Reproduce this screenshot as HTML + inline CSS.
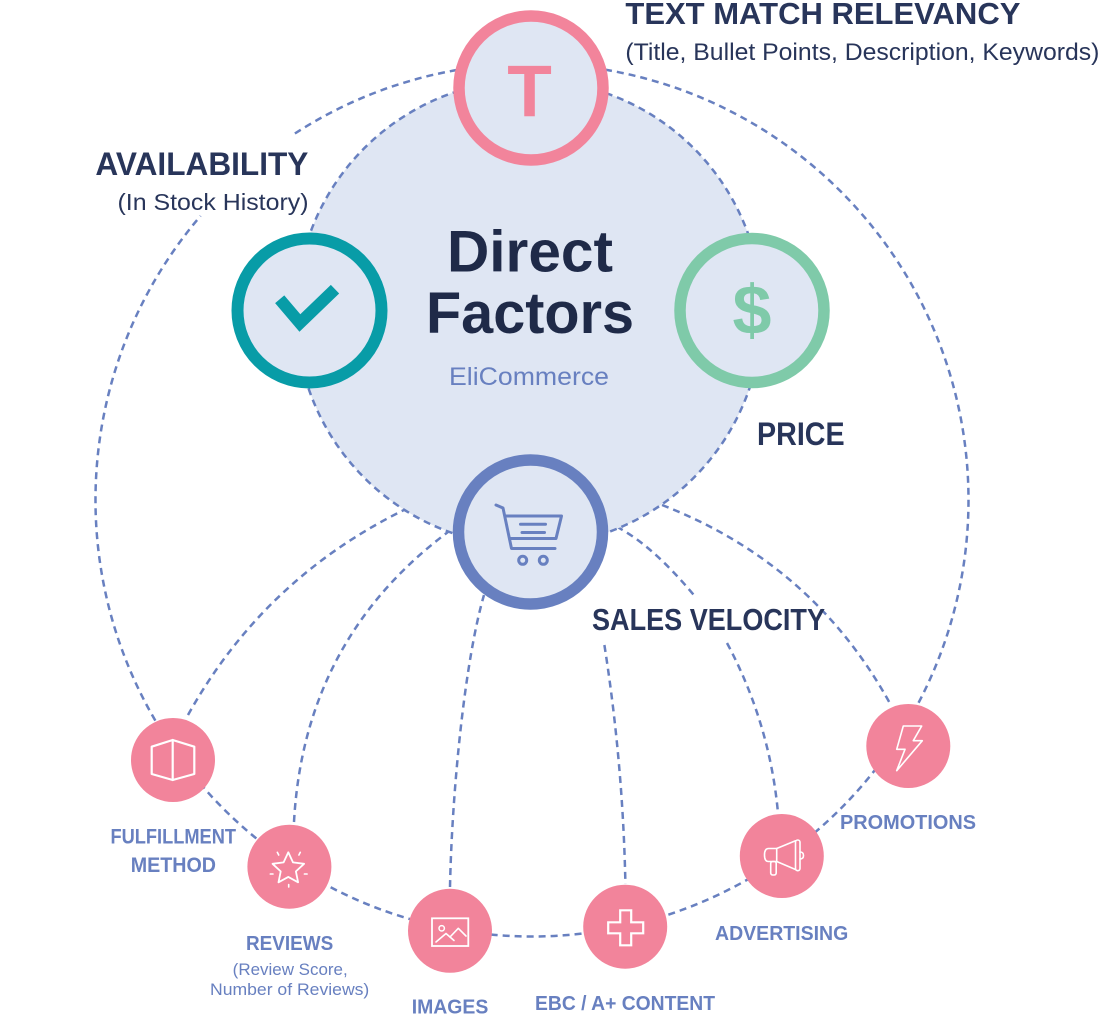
<!DOCTYPE html>
<html>
<head>
<meta charset="utf-8">
<style>
  html,body{margin:0;padding:0;background:#ffffff;}
  svg{display:block;}
  .hd{font-family:"Liberation Sans",Arial,sans-serif;font-weight:bold;fill:#28355a;}
  .sub{font-family:"Liberation Sans",Arial,sans-serif;font-weight:normal;fill:#28355a;}
  .nl{font-family:"Liberation Sans",Arial,sans-serif;font-weight:bold;fill:#6880c0;}
  .ns{font-family:"Liberation Sans",Arial,sans-serif;font-weight:normal;fill:#6880c0;}
</style>
</head>
<body>
<svg width="1100" height="1015" viewBox="0 0 1100 1015" xmlns="http://www.w3.org/2000/svg">
  <rect x="0" y="0" width="1100" height="1015" fill="#ffffff"/>

  <!-- outer dashed ring (gap at AVAILABILITY label) -->
  <path d="M294.9 133.5 A436.5 436.5 0 1 1 200.6 215.9" fill="none" stroke="#6880c0" stroke-width="2.5" stroke-dasharray="7 5"/>

  <!-- inner connectors -->
  <g fill="none" stroke="#6880c0" stroke-width="2.5" stroke-dasharray="7 5">
    <path d="M188 715 Q264.5 577.5 407 508.5"/>
    <path d="M294 822 Q304 638 450.7 530"/>
    <path d="M450 887 C452 790 465 660 484 595"/>
    <path d="M604.4 645 Q623 764 625.4 884"/>
    <path d="M616.6 526.7 Q652 545 693.8 595"/>
    <path d="M727 643 Q769.7 723 778 813"/>
    <path d="M662 505 Q813 563.6 890 703.5"/>
  </g>

  <!-- big central circle -->
  <circle cx="529" cy="313" r="233" fill="#dfe6f3" stroke="#6880c0" stroke-width="2.5" stroke-dasharray="7 5"/>

  <!-- main factor circles -->
  <circle cx="531" cy="88" r="72" fill="#dfe6f3" stroke="#f2849b" stroke-width="11.5"/>
  <circle cx="309.5" cy="310.5" r="72" fill="#dfe6f3" stroke="#089ca7" stroke-width="12"/>
  <circle cx="752" cy="310.5" r="72" fill="#dfe6f3" stroke="#7fcaa9" stroke-width="11.5"/>
  <circle cx="530.5" cy="532" r="72" fill="#dfe6f3" stroke="#6880c0" stroke-width="11.5"/>

  <!-- T -->
  <text x="529.5" y="116.7" text-anchor="middle" font-family="Liberation Sans, Arial, sans-serif" font-weight="bold" font-size="73" fill="#f2849b">T</text>
  <!-- check -->
  <polyline points="279.7,299.2 299.9,323 335,289.2" fill="none" stroke="#089ca7" stroke-width="12" stroke-linejoin="miter"/>
  <!-- dollar -->
  <text x="752" y="334" text-anchor="middle" font-family="Liberation Sans, Arial, sans-serif" font-weight="bold" font-size="70" fill="#7fcaa9">$</text>
  <!-- cart -->
  <g fill="none" stroke="#6880c0" stroke-width="3" stroke-linecap="round" stroke-linejoin="round">
    <path d="M496 505 L503 508 L511.5 548.5 L555 548.5"/>
    <path d="M505 516 L561.5 516 L556 538.5 L509.5 538.5"/>
    <path d="M520.5 524.3 L545.5 524.3"/>
    <path d="M522 532.5 L544.5 532.5"/>
    <circle cx="522.7" cy="560.3" r="4"/>
    <circle cx="543.3" cy="560.3" r="4"/>
  </g>

  <!-- pink nodes -->
  <g fill="#f2849b">
    <circle cx="173" cy="760" r="42"/>
    <circle cx="289.4" cy="866.7" r="42"/>
    <circle cx="450" cy="930.8" r="42"/>
    <circle cx="625.2" cy="926.7" r="42"/>
    <circle cx="781.8" cy="856" r="42"/>
    <circle cx="908.3" cy="746" r="42"/>
  </g>

  <!-- node icons -->
  <g fill="none" stroke="#ffffff" stroke-linejoin="round" stroke-linecap="round">
    <!-- cube -->
    <polygon points="151.7,746.7 172.7,740 194.3,746.7 194.3,774 172.7,780 151.7,774" stroke-width="2.2"/>
    <line x1="172.7" y1="740" x2="172.7" y2="780" stroke-width="2.2"/>
    <!-- star -->
    <polygon points="288.3,852.3 293,862.4 304.1,863.8 295.9,871.4 298.1,882.3 288.3,876.9 278.5,882.3 280.7,871.4 272.5,863.8 283.6,862.4" stroke-width="1.8"/>
    <line x1="277.3" y1="852.3" x2="278.7" y2="855" stroke-width="1.6"/>
    <line x1="300.3" y1="852.3" x2="298.9" y2="855" stroke-width="1.6"/>
    <line x1="270.3" y1="874" x2="273" y2="874" stroke-width="1.6"/>
    <line x1="304.4" y1="874" x2="307.1" y2="874" stroke-width="1.6"/>
    <line x1="288.7" y1="884.6" x2="288.7" y2="887" stroke-width="1.6"/>
    <!-- image -->
    <rect x="432" y="918.3" width="36.3" height="27.7" stroke-width="1.8" stroke-linejoin="miter"/>
    <circle cx="441.7" cy="928.3" r="2.7" stroke-width="1.5"/>
    <polyline points="436,942 446,933.5 454,940.5" stroke-width="1.6"/>
    <polyline points="450,937 458.3,928.3 466,936" stroke-width="1.6"/>
    <!-- plus -->
    <path d="M620.2 910.3 H631.2 V922.3 H643.2 V933.3 H631.2 V945.3 H620.2 V933.3 H608.2 V922.3 H620.2 Z" stroke-width="2.2" stroke-linejoin="miter"/>
    <!-- megaphone -->
    <path d="M776.7 848.5 L768.5 848.5 Q764.5 848.5 764.5 855 Q764.5 861.5 768.5 861.5 L776.7 861.5 Z" stroke-width="1.6"/>
    <path d="M776.7 848.5 L795.5 840.8 M776.7 861.5 L795.5 869.5" stroke-width="1.6"/>
    <rect x="795.5" y="840" width="4.5" height="30.7" rx="2.2" stroke-width="1.6"/>
    <path d="M800 852 Q803.5 852 803.5 855.5 Q803.5 859 800 859" stroke-width="1.6"/>
    <rect x="770.7" y="861.5" width="5.5" height="13.5" rx="2" stroke-width="1.6"/>
    <!-- bolt -->
    <polygon points="903.3,726 921.7,726 913.3,740.7 922.3,740.7 896.7,770.7 905,749.3 896.7,749.3" stroke-width="1.6"/>
  </g>

  <!-- headings -->
  <text class="hd" x="625.4" y="24" font-size="31" textLength="395" lengthAdjust="spacingAndGlyphs">TEXT MATCH RELEVANCY</text>
  <text class="sub" x="625.4" y="60" font-size="24.5" textLength="474" lengthAdjust="spacingAndGlyphs">(Title, Bullet Points, Description, Keywords)</text>
  <text class="hd" x="95.4" y="175" font-size="32.5" textLength="213" lengthAdjust="spacingAndGlyphs">AVAILABILITY</text>
  <text class="sub" x="117.5" y="210" font-size="23.5" textLength="191" lengthAdjust="spacingAndGlyphs">(In Stock History)</text>
  <text class="hd" x="757" y="445" font-size="32" textLength="87.6" lengthAdjust="spacingAndGlyphs">PRICE</text>
  <text class="hd" x="592" y="630" font-size="31" textLength="233" lengthAdjust="spacingAndGlyphs">SALES VELOCITY</text>

  <!-- center -->
  <text x="447" y="271.7" font-family="Liberation Sans, Arial, sans-serif" font-weight="bold" font-size="58" fill="#1f2a48" textLength="166" lengthAdjust="spacingAndGlyphs">Direct</text>
  <text x="426" y="333" font-family="Liberation Sans, Arial, sans-serif" font-weight="bold" font-size="58" fill="#1f2a48" textLength="208" lengthAdjust="spacingAndGlyphs">Factors</text>
  <text x="449" y="385" font-family="Liberation Sans, Arial, sans-serif" font-size="25" fill="#6880c0" textLength="160" lengthAdjust="spacingAndGlyphs">EliCommerce</text>

  <!-- node labels -->
  <text class="nl" x="110.5" y="843.3" font-size="21" textLength="125.5" lengthAdjust="spacingAndGlyphs">FULFILLMENT</text>
  <text class="nl" x="130.7" y="871.8" font-size="21" textLength="85.3" lengthAdjust="spacingAndGlyphs">METHOD</text>
  <text class="nl" x="246" y="950" font-size="20.5" textLength="87.3" lengthAdjust="spacingAndGlyphs">REVIEWS</text>
  <text class="ns" x="232.7" y="975" font-size="16.5" textLength="115" lengthAdjust="spacingAndGlyphs">(Review Score,</text>
  <text class="ns" x="210" y="995" font-size="16.5" textLength="159.3" lengthAdjust="spacingAndGlyphs">Number of Reviews)</text>
  <text class="nl" x="411.7" y="1013.3" font-size="20.5" textLength="76.6" lengthAdjust="spacingAndGlyphs">IMAGES</text>
  <text class="nl" x="535" y="1010" font-size="20.5" textLength="180" lengthAdjust="spacingAndGlyphs">EBC / A+ CONTENT</text>
  <text class="nl" x="715" y="940" font-size="20.5" textLength="133.3" lengthAdjust="spacingAndGlyphs">ADVERTISING</text>
  <text class="nl" x="840" y="829" font-size="20.5" textLength="136" lengthAdjust="spacingAndGlyphs">PROMOTIONS</text>
</svg>
</body>
</html>
